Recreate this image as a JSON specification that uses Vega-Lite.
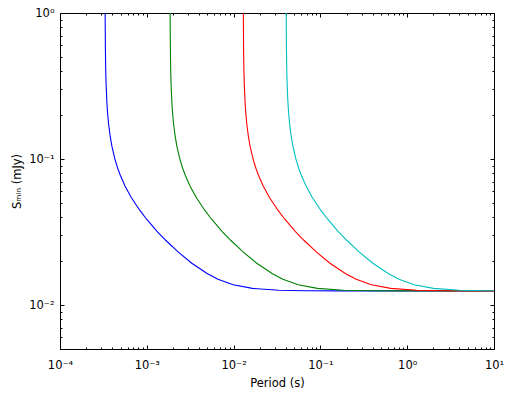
{
  "$schema": "https://vega.github.io/schema/vega-lite/v6.json",
  "width": 434,
  "height": 336,
  "autosize": {"type": "none"},
  "padding": {"left": 60, "top": 13, "right": 19, "bottom": 45},
  "background": "white",
  "config": {
    "view": {"stroke": "black", "strokeWidth": 1},
    "font": "DejaVu Sans",
    "axis": {
      "grid": false,
      "domain": false,
      "tickColor": "black",
      "tickWidth": 1,
      "labelColor": "black",
      "labelFont": "DejaVu Sans",
      "labelFontSize": 11.5,
      "titleFont": "DejaVu Sans",
      "titleFontSize": 11.5,
      "titleFontWeight": "normal",
      "titleColor": "black",
      "labelOverlap": false,
      "labelBound": false,
      "labelFlush": false
    }
  },
  "data": {"values": [
    {"P": 0.00033099, "S": 1.306, "c": "b"},
    {"P": 0.00033132, "S": 1.04, "c": "b"},
    {"P": 0.00033198, "S": 0.792, "c": "b"},
    {"P": 0.0003333, "S": 0.584, "c": "b"},
    {"P": 0.00033495, "S": 0.466, "c": "b"},
    {"P": 0.0003366, "S": 0.399, "c": "b"},
    {"P": 0.0003399, "S": 0.322, "c": "b"},
    {"P": 0.0003465, "S": 0.247, "c": "b"},
    {"P": 0.0003531, "S": 0.208, "c": "b"},
    {"P": 0.000363, "S": 0.1738, "c": "b"},
    {"P": 0.0003795, "S": 0.1416, "c": "b"},
    {"P": 0.000396, "S": 0.1225, "c": "b"},
    {"P": 0.000429, "S": 0.09996, "c": "b"},
    {"P": 0.000462, "S": 0.0865, "c": "b"},
    {"P": 0.000495, "S": 0.0774, "c": "b"},
    {"P": 0.000561, "S": 0.0654, "c": "b"},
    {"P": 0.00066, "S": 0.05477, "c": "b"},
    {"P": 0.000825, "S": 0.04479, "c": "b"},
    {"P": 0.00099, "S": 0.03886, "c": "b"},
    {"P": 0.00132, "S": 0.03188, "c": "b"},
    {"P": 0.00165, "S": 0.02777, "c": "b"},
    {"P": 0.00231, "S": 0.02302, "c": "b"},
    {"P": 0.0033, "S": 0.01934, "c": "b"},
    {"P": 0.00495, "S": 0.01643, "c": "b"},
    {"P": 0.0066, "S": 0.01503, "c": "b"},
    {"P": 0.0099, "S": 0.01378, "c": "b"},
    {"P": 0.0165, "S": 0.013, "c": "b"},
    {"P": 0.033, "S": 0.01263, "c": "b"},
    {"P": 0.066, "S": 0.012536, "c": "b"},
    {"P": 0.165, "S": 0.012508, "c": "b"},
    {"P": 10, "S": 0.0125, "c": "b"},

    {"P": 0.0018556, "S": 1.306, "c": "g"},
    {"P": 0.0018574, "S": 1.04, "c": "g"},
    {"P": 0.0018611, "S": 0.792, "c": "g"},
    {"P": 0.0018685, "S": 0.584, "c": "g"},
    {"P": 0.0018778, "S": 0.466, "c": "g"},
    {"P": 0.001887, "S": 0.399, "c": "g"},
    {"P": 0.0019055, "S": 0.322, "c": "g"},
    {"P": 0.0019425, "S": 0.247, "c": "g"},
    {"P": 0.0019795, "S": 0.208, "c": "g"},
    {"P": 0.002035, "S": 0.1738, "c": "g"},
    {"P": 0.0021275, "S": 0.1416, "c": "g"},
    {"P": 0.00222, "S": 0.1225, "c": "g"},
    {"P": 0.002405, "S": 0.09996, "c": "g"},
    {"P": 0.00259, "S": 0.0865, "c": "g"},
    {"P": 0.002775, "S": 0.0774, "c": "g"},
    {"P": 0.003145, "S": 0.0654, "c": "g"},
    {"P": 0.0037, "S": 0.05477, "c": "g"},
    {"P": 0.004625, "S": 0.04479, "c": "g"},
    {"P": 0.00555, "S": 0.03886, "c": "g"},
    {"P": 0.0074, "S": 0.03188, "c": "g"},
    {"P": 0.00925, "S": 0.02777, "c": "g"},
    {"P": 0.01295, "S": 0.02302, "c": "g"},
    {"P": 0.0185, "S": 0.01934, "c": "g"},
    {"P": 0.02775, "S": 0.01643, "c": "g"},
    {"P": 0.037, "S": 0.01503, "c": "g"},
    {"P": 0.0555, "S": 0.01378, "c": "g"},
    {"P": 0.0925, "S": 0.013, "c": "g"},
    {"P": 0.185, "S": 0.01263, "c": "g"},
    {"P": 0.37, "S": 0.012536, "c": "g"},
    {"P": 0.925, "S": 0.012508, "c": "g"},
    {"P": 10, "S": 0.0125, "c": "g"},

    {"P": 0.012939, "S": 1.306, "c": "r"},
    {"P": 0.012952, "S": 1.04, "c": "r"},
    {"P": 0.012977, "S": 0.792, "c": "r"},
    {"P": 0.013029, "S": 0.584, "c": "r"},
    {"P": 0.013094, "S": 0.466, "c": "r"},
    {"P": 0.013158, "S": 0.399, "c": "r"},
    {"P": 0.013287, "S": 0.322, "c": "r"},
    {"P": 0.013545, "S": 0.247, "c": "r"},
    {"P": 0.013803, "S": 0.208, "c": "r"},
    {"P": 0.01419, "S": 0.1738, "c": "r"},
    {"P": 0.014835, "S": 0.1416, "c": "r"},
    {"P": 0.01548, "S": 0.1225, "c": "r"},
    {"P": 0.01677, "S": 0.09996, "c": "r"},
    {"P": 0.01806, "S": 0.0865, "c": "r"},
    {"P": 0.01935, "S": 0.0774, "c": "r"},
    {"P": 0.02193, "S": 0.0654, "c": "r"},
    {"P": 0.0258, "S": 0.05477, "c": "r"},
    {"P": 0.03225, "S": 0.04479, "c": "r"},
    {"P": 0.0387, "S": 0.03886, "c": "r"},
    {"P": 0.0516, "S": 0.03188, "c": "r"},
    {"P": 0.0645, "S": 0.02777, "c": "r"},
    {"P": 0.0903, "S": 0.02302, "c": "r"},
    {"P": 0.129, "S": 0.01934, "c": "r"},
    {"P": 0.1935, "S": 0.01643, "c": "r"},
    {"P": 0.258, "S": 0.01503, "c": "r"},
    {"P": 0.387, "S": 0.01378, "c": "r"},
    {"P": 0.645, "S": 0.013, "c": "r"},
    {"P": 1.29, "S": 0.01263, "c": "r"},
    {"P": 2.58, "S": 0.012536, "c": "r"},
    {"P": 6.45, "S": 0.012508, "c": "r"},
    {"P": 10, "S": 0.012505, "c": "r"},

    {"P": 0.040321, "S": 1.306, "c": "c"},
    {"P": 0.040361, "S": 1.04, "c": "c"},
    {"P": 0.040441, "S": 0.792, "c": "c"},
    {"P": 0.040602, "S": 0.584, "c": "c"},
    {"P": 0.040803, "S": 0.466, "c": "c"},
    {"P": 0.041004, "S": 0.399, "c": "c"},
    {"P": 0.041406, "S": 0.322, "c": "c"},
    {"P": 0.04221, "S": 0.247, "c": "c"},
    {"P": 0.043014, "S": 0.208, "c": "c"},
    {"P": 0.04422, "S": 0.1738, "c": "c"},
    {"P": 0.04623, "S": 0.1416, "c": "c"},
    {"P": 0.04824, "S": 0.1225, "c": "c"},
    {"P": 0.05226, "S": 0.09996, "c": "c"},
    {"P": 0.05628, "S": 0.0865, "c": "c"},
    {"P": 0.0603, "S": 0.0774, "c": "c"},
    {"P": 0.06834, "S": 0.0654, "c": "c"},
    {"P": 0.0804, "S": 0.05477, "c": "c"},
    {"P": 0.1005, "S": 0.04479, "c": "c"},
    {"P": 0.1206, "S": 0.03886, "c": "c"},
    {"P": 0.1608, "S": 0.03188, "c": "c"},
    {"P": 0.201, "S": 0.02777, "c": "c"},
    {"P": 0.2814, "S": 0.02302, "c": "c"},
    {"P": 0.402, "S": 0.01934, "c": "c"},
    {"P": 0.603, "S": 0.01643, "c": "c"},
    {"P": 0.804, "S": 0.01503, "c": "c"},
    {"P": 1.206, "S": 0.01378, "c": "c"},
    {"P": 2.01, "S": 0.013, "c": "c"},
    {"P": 4.02, "S": 0.01263, "c": "c"},
    {"P": 8.04, "S": 0.012536, "c": "c"},
    {"P": 10, "S": 0.01252, "c": "c"}
  ]},
  "layer": [
    {
      "mark": {"type": "line", "clip": true, "strokeWidth": 1.1},
      "encoding": {
        "x": {
          "field": "P", "type": "quantitative",
          "scale": {"type": "log", "domain": [0.0001, 10], "nice": false},
          "axis": {
            "orient": "bottom",
            "title": "Period (s)",
            "titlePadding": 5,
            "values": [0.0001,0.0002,0.0003,0.0004,0.0005,0.0006,0.0007,0.0008,0.0009,0.001,0.002,0.003,0.004,0.005,0.006,0.007,0.008,0.009,0.01,0.02,0.03,0.04,0.05,0.06,0.07,0.08,0.09,0.1,0.2,0.3,0.4,0.5,0.6,0.7,0.8,0.9,1,2,3,4,5,6,7,8,9,10],
            "labelExpr": "datum.value==0.0001?'10⁻⁴':datum.value==0.001?'10⁻³':datum.value==0.01?'10⁻²':datum.value==0.1?'10⁻¹':datum.value==1?'10⁰':datum.value==10?'10¹':''",
            "tickSize": {"condition": {"test": "datum.value==0.0001||datum.value==0.001||datum.value==0.01||datum.value==0.1||datum.value==1||datum.value==10", "value": -4}, "value": -2},
            "labelPadding": 14
          }
        },
        "y": {
          "field": "S", "type": "quantitative",
          "scale": {"type": "log", "domain": [0.005, 1], "nice": false},
          "axis": {
            "orient": "left",
            "title": "Sₘᵢₙ (mJy)",
            "titlePadding": 6,
            "values": [0.005,0.006,0.007,0.008,0.009,0.01,0.02,0.03,0.04,0.05,0.06,0.07,0.08,0.09,0.1,0.2,0.3,0.4,0.5,0.6,0.7,0.8,0.9,1],
            "labelExpr": "datum.value==0.01?'10⁻²':datum.value==0.1?'10⁻¹':datum.value==1?'10⁰':''",
            "tickSize": {"condition": {"test": "datum.value==0.01||datum.value==0.1||datum.value==1", "value": -4}, "value": -2},
            "labelPadding": 10
          }
        },
        "color": {
          "field": "c", "type": "nominal",
          "scale": {"domain": ["b", "g", "r", "c"], "range": ["#0000ff", "#008000", "#ff0000", "#00bfbf"]},
          "legend": null
        }
      }
    },
    {
      "mark": {"type": "line", "clip": true, "opacity": 0},
      "encoding": {
        "x": {
          "field": "P", "type": "quantitative",
          "axis": {
            "orient": "top", "title": null, "labels": false,
            "values": [0.0001,0.0002,0.0003,0.0004,0.0005,0.0006,0.0007,0.0008,0.0009,0.001,0.002,0.003,0.004,0.005,0.006,0.007,0.008,0.009,0.01,0.02,0.03,0.04,0.05,0.06,0.07,0.08,0.09,0.1,0.2,0.3,0.4,0.5,0.6,0.7,0.8,0.9,1,2,3,4,5,6,7,8,9,10],
            "tickSize": {"condition": {"test": "datum.value==0.0001||datum.value==0.001||datum.value==0.01||datum.value==0.1||datum.value==1||datum.value==10", "value": -4}, "value": -2}
          }
        },
        "y": {
          "field": "S", "type": "quantitative",
          "axis": {
            "orient": "right", "title": null, "labels": false,
            "values": [0.005,0.006,0.007,0.008,0.009,0.01,0.02,0.03,0.04,0.05,0.06,0.07,0.08,0.09,0.1,0.2,0.3,0.4,0.5,0.6,0.7,0.8,0.9,1],
            "tickSize": {"condition": {"test": "datum.value==0.01||datum.value==0.1||datum.value==1", "value": -4}, "value": -2}
          }
        },
        "detail": {"field": "c", "type": "nominal"}
      }
    }
  ],
  "resolve": {"axis": {"x": "independent", "y": "independent"}}
}
